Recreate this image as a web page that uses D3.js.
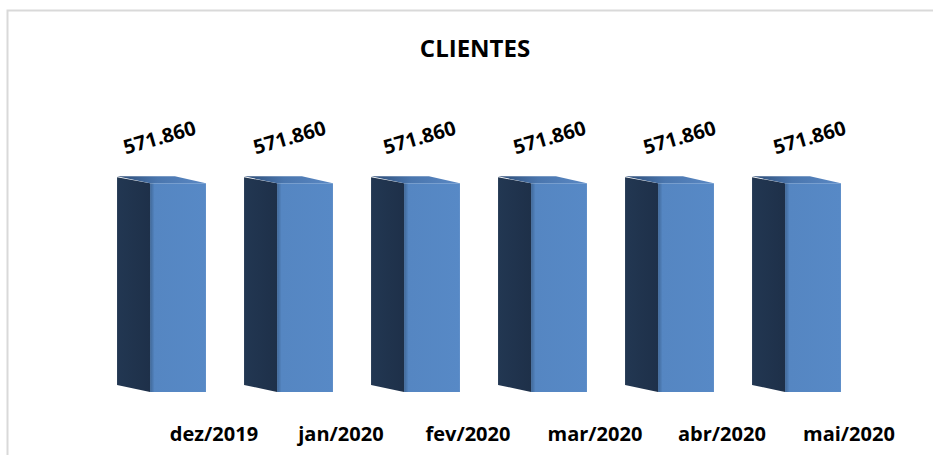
<!DOCTYPE html>
<html>
<head>
<meta charset="utf-8">
<script src="https://cdn.jsdelivr.net/npm/d3@7"></script>
<style>
  html, body { margin: 0; padding: 0; background: #fff; }
  svg { display: block; }
</style>
</head>
<body>
<div id="chart"></div>
<script>
const categories = ["dez/2019", "jan/2020", "fev/2020", "mar/2020", "abr/2020", "mai/2020"];
const values = [571860, 571860, 571860, 571860, 571860, 571860];
const title = "CLIENTES";

const width = 933, height = 455;
const depthX = 33, depthY = 7; // 3d offset of the columns

const svg = d3.select("#chart").append("svg")
    .attr("width", width)
    .attr("height", height);

const defs = svg.append("defs");
const topGrad = defs.append("linearGradient").attr("id", "topGrad")
    .attr("x1", "0%").attr("x2", "100%").attr("y1", "0%").attr("y2", "0%");
topGrad.append("stop").attr("offset", "0%").attr("stop-color", "#2d4b74");
topGrad.append("stop").attr("offset", "45%").attr("stop-color", "#4a76ae");
topGrad.append("stop").attr("offset", "100%").attr("stop-color", "#5a88c4");

const frontGrad = defs.append("linearGradient").attr("id", "frontGrad")
    .attr("x1", "0%").attr("x2", "100%").attr("y1", "0%").attr("y2", "0%");
frontGrad.append("stop").attr("offset", "0%").attr("stop-color", "#3f6797");
frontGrad.append("stop").attr("offset", "8%").attr("stop-color", "#5586c2");
frontGrad.append("stop").attr("offset", "100%").attr("stop-color", "#5789c6");

const sideGrad = defs.append("linearGradient").attr("id", "sideGrad")
    .attr("x1", "0%").attr("x2", "100%").attr("y1", "0%").attr("y2", "0%");
sideGrad.append("stop").attr("offset", "0%").attr("stop-color", "#223752");
sideGrad.append("stop").attr("offset", "100%").attr("stop-color", "#1e3049");

// chart frame
svg.append("rect")
    .attr("x", 7.5).attr("y", 10.5)
    .attr("width", 940).attr("height", 460)
    .attr("fill", "#fff")
    .attr("stroke", "#d9d9d9")
    .attr("stroke-width", 2);

svg.append("text")
    .attr("x", 475).attr("y", 57)
    .attr("text-anchor", "middle")
    .style("font", "bold 24px 'Open Sans', sans-serif")
    .attr("fill", "#000")
    .text(title);

const x = d3.scaleBand()
    .domain(categories)
    .range([98, 860])
    .paddingInner(0.3)
    .paddingOuter(0.15);

const y = d3.scaleLinear()
    .domain([0, 600000])
    .range([392, 173]);

const bw = x.bandwidth();
const frontW = bw - depthX;

const bars = svg.append("g").selectAll("g")
    .data(categories.map((c, i) => ({ cat: c, value: values[i], i })))
    .join("g");

// side face (left)
bars.append("path")
    .attr("fill", "url(#sideGrad)")
    .attr("d", d => {
        const x0 = x(d.cat), x1 = x0 + depthX;
        const yt = y(d.value), yb = y(0);
        return `M${x0},${yt - depthY + 1}L${x1},${yt}L${x1},${yb}L${x0},${yb - depthY}Z`;
    });

// top face
bars.append("path")
    .attr("fill", "url(#topGrad)")
    .attr("d", d => {
        const x0 = x(d.cat), yt = y(d.value);
        return `M${x0},${yt - depthY}L${x0 + frontW + 2},${yt - depthY}L${x0 + bw},${yt}L${x0 + depthX},${yt}Z`;
    });

// front face
bars.append("rect")
    .attr("fill", "url(#frontGrad)")
    .attr("x", d => x(d.cat) + depthX)
    .attr("y", d => y(d.value))
    .attr("width", frontW)
    .attr("height", d => y(0) - y(d.value));

// value labels (slight perspective drift to the right)
const fmt = v => d3.format(",")(v).replace(/,/g, ".");
bars.append("text")
    .attr("transform", d => `translate(${x(d.cat) + bw * 0.5 + d.i * 3},${y(d.value) - 39}) rotate(-16)`)
    .attr("text-anchor", "middle")
    .style("font", "bold 20px 'Open Sans', sans-serif")
    .attr("fill", "#000")
    .text(d => fmt(d.value));

// category labels
svg.append("g").selectAll("text")
    .data(categories)
    .join("text")
    .attr("x", d => x(d) + bw + 8)
    .attr("y", 441)
    .attr("text-anchor", "middle")
    .style("font", "bold 20px 'Open Sans', sans-serif")
    .attr("fill", "#000")
    .text(d => d);
</script>
</body>
</html>
